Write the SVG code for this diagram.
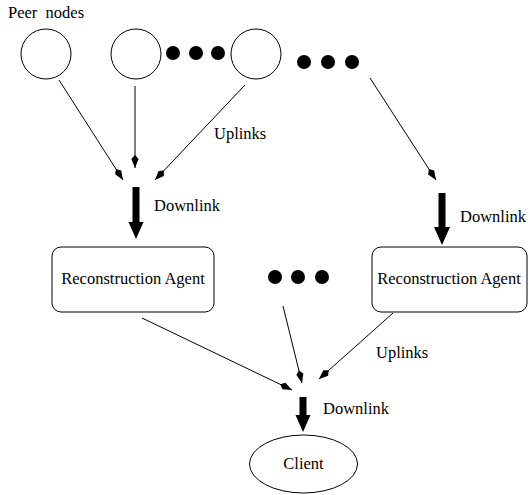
<svg xmlns="http://www.w3.org/2000/svg" width="529" height="495" viewBox="0 0 529 495">
  <style>
    .node { fill: #ffffff; stroke: #000000; stroke-width: 1; }
    .dot { fill: #000000; }
    .link { stroke: #000000; stroke-width: 1; fill: none; marker-end: url(#tip); }
    .bulk { fill: #000000; stroke: none; }
    text { font-family: "Liberation Serif", "Times New Roman", serif; font-size: 16.5px; fill: #000000; }
    .mid { text-anchor: middle; }
  </style>
  <defs>
    <marker id="tip" markerUnits="userSpaceOnUse" markerWidth="16" markerHeight="10" viewBox="-14 -5 15 10" refX="0" refY="0" orient="auto">
      <path d="M0,0 L-9,-3.6 L-13,0 L-9,3.6 Z" fill="#000000"/>
    </marker>
  </defs>

  <rect width="529" height="495" fill="#ffffff"/>

  <text x="8" y="18" xml:space="preserve">Peer  nodes</text>

  <!-- peer nodes -->
  <g id="peer1"><circle class="node" cx="46" cy="54" r="25"/></g>
  <g id="peer2"><circle class="node" cx="136" cy="54" r="25"/></g>
  <g id="peer3"><circle class="node" cx="256" cy="54" r="25"/></g>

  <!-- ellipsis markers -->
  <g id="more-peers-a">
    <circle class="dot" cx="173" cy="53" r="7"/>
    <circle class="dot" cx="196" cy="53" r="7"/>
    <circle class="dot" cx="218" cy="53" r="7"/>
  </g>
  <g id="more-peers-b">
    <circle class="dot" cx="304" cy="62" r="7"/>
    <circle class="dot" cx="328" cy="62" r="7"/>
    <circle class="dot" cx="352" cy="62" r="7"/>
  </g>
  <g id="more-agents">
    <circle class="dot" cx="275" cy="277" r="7"/>
    <circle class="dot" cx="298" cy="277" r="7"/>
    <circle class="dot" cx="322" cy="277" r="7"/>
  </g>

  <!-- reconstruction agents -->
  <g id="agent1">
    <rect class="node" x="52" y="247" width="162" height="65" rx="9"/>
    <text class="mid" x="133" y="284">Reconstruction Agent</text>
  </g>
  <g id="agent2">
    <rect class="node" x="372" y="247" width="155" height="65" rx="9"/>
    <text class="mid" x="449" y="284">Reconstruction Agent</text>
  </g>

  <!-- client -->
  <g id="client">
    <ellipse class="node" cx="303.5" cy="464" rx="54" ry="29"/>
    <text class="mid" x="303.5" y="469">Client</text>
  </g>

  <!-- connectors -->
  <g id="connectors">
    <line class="link" x1="59" y1="80" x2="123" y2="180"/>
    <line class="link" x1="135" y1="86" x2="135" y2="168"/>
    <line class="link" x1="245" y1="85" x2="155" y2="180"/>
    <line class="link" x1="370" y1="78" x2="436" y2="180"/>
    <line class="link" x1="142" y1="318" x2="292" y2="390"/>
    <line class="link" x1="283" y1="306" x2="302" y2="383"/>
    <line class="link" x1="393" y1="313" x2="319" y2="379"/>

    <polygon class="bulk" points="132.5,187 139.5,187 139.5,222 143.5,222 136,239 128.5,222 132.5,222"/>
    <polygon class="bulk" points="438.5,193 445.5,193 445.5,227 450,227 442,245 434,227 438.5,227"/>
    <polygon class="bulk" points="299.5,397 306.5,397 306.5,415 310.5,415 303,432 295.5,415 299.5,415"/>

    <text x="214" y="139">Uplinks</text>
    <text x="154" y="211">Downlink</text>
    <text x="460" y="222">Downlink</text>
    <text x="376" y="358">Uplinks</text>
    <text x="323" y="414">Downlink</text>
  </g>
</svg>
